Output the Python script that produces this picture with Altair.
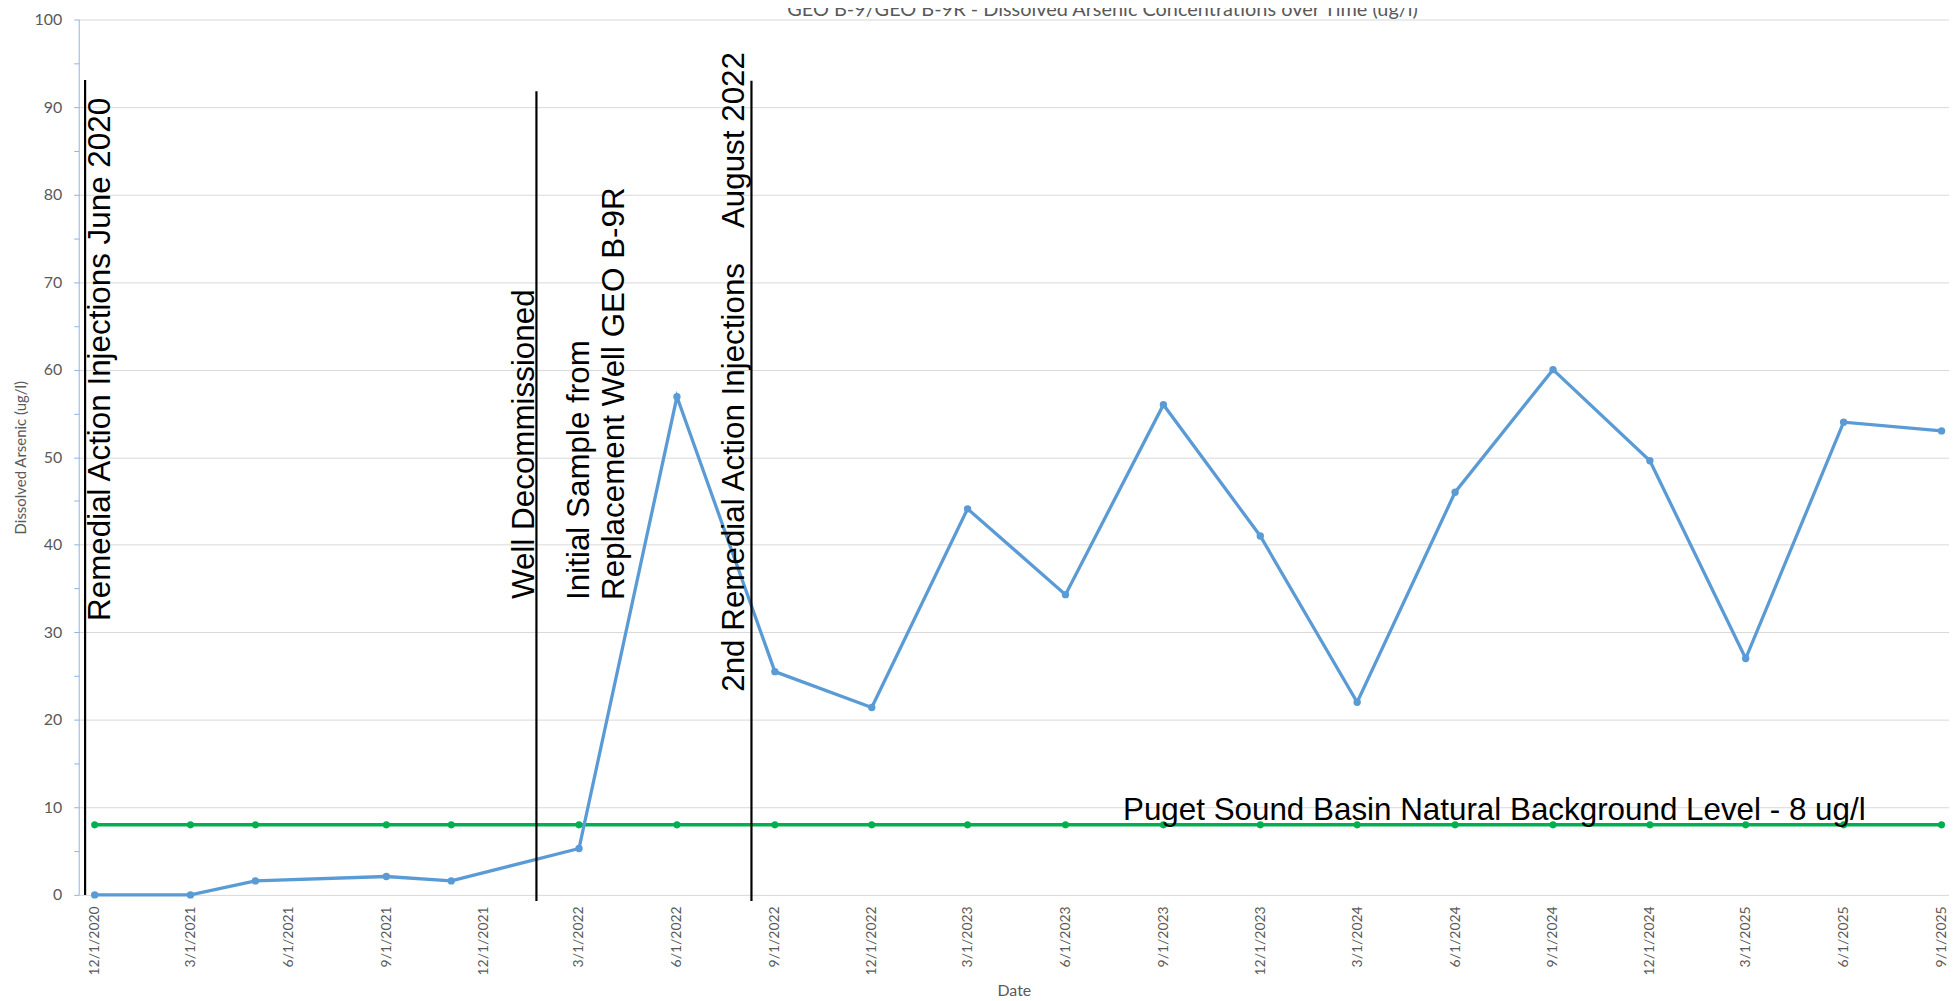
import altair as alt
import pandas as pd

# ---------------- data ----------------
sample_dates = [
    "2020-12-01", "2021-03-01", "2021-05-01", "2021-09-01", "2021-11-01",
    "2022-03-01", "2022-06-01", "2022-09-01", "2022-12-01", "2023-03-01",
    "2023-06-01", "2023-09-01", "2023-12-01", "2024-03-01", "2024-06-01",
    "2024-09-01", "2024-12-01", "2025-03-01", "2025-06-01", "2025-09-01",
]
arsenic = [0, 0, 1.6, 2.1, 1.6, 5.3, 56.9, 25.5, 21.4, 44.1,
           34.3, 56.0, 41.0, 22.0, 46.0, 60.0, 49.6, 27.0, 54.0, 53.0]
background = [8, 8, 8, 8, 8, 8, 8, 8, 8, 8, 8, 8, 8, 8, 8, 8, 8, 8, 8, 8]

tick_dates = [
    (2020, 12, 1), (2021, 3, 1), (2021, 6, 1), (2021, 9, 1), (2021, 12, 1),
    (2022, 3, 1), (2022, 6, 1), (2022, 9, 1), (2022, 12, 1), (2023, 3, 1),
    (2023, 6, 1), (2023, 9, 1), (2023, 12, 1), (2024, 3, 1), (2024, 6, 1),
    (2024, 9, 1), (2024, 12, 1), (2025, 3, 1), (2025, 6, 1), (2025, 9, 1),
]
y_ticks = [0, 5, 10, 15, 20, 25, 30, 35, 40, 45, 50, 55, 60, 65, 70, 75, 80, 85, 90, 95, 100]

event_dates = ["2020-11-22", "2022-01-20", "2022-08-10"]
event_top = [93.1, 91.8, 93.0]
event_bottom = [0, -0.7, -0.7]

vtext = [
    "Remedial Action Injections June 2020",
    "Well Decommissioned",
    "Initial Sample from",
    "Replacement Well GEO B-9R",
    "2nd Remedial Action Injections\u00a0\u00a0\u00a0\u00a0August 2022",
]
vtext_dates = ["2020-12-15", "2022-01-18", "2022-03-10", "2022-04-12", "2022-08-03"]
vtext_values = [31.3, 33.8, 33.7, 33.7, 23.2]

htext = ["Puget Sound Basin Natural Background Level - 8 ug/l"]
htext_dates = ["2023-07-25"]
htext_values = [8.54]

title_text = "GEO B-9/GEO B-9R - Dissolved Arsenic Concentrations over Time (ug/l)"

# ---------------- tables ----------------
def ts(s):
    return s + "T00:00:00"

series_df = pd.DataFrame({"date": [ts(d) for d in sample_dates], "value": arsenic})
bg_df = pd.DataFrame({"date": [ts(d) for d in sample_dates], "value": background})
ev_df = pd.DataFrame({"date": [ts(d) for d in event_dates], "top": event_top, "bottom": event_bottom})
vt_df = pd.DataFrame({"date": [ts(d) for d in vtext_dates], "value": vtext_values, "label": vtext})
ht_df = pd.DataFrame({"date": [ts(d) for d in htext_dates], "value": htext_values, "label": htext})
title_df = pd.DataFrame({"label": [title_text]})

GRAY = "#595959"
AX_FONT = "Lato"
ANN_FONT = "Liberation Sans, Arial, sans-serif"
ANN_SIZE = 31.5

x_scale = alt.Scale(domain=[alt.DateTime(year=2020, month=11, date=16),
                            alt.DateTime(year=2025, month=9, date=8)])
y_scale = alt.Scale(domain=[0, 100], nice=False, zero=False)

x_axis = alt.Axis(
    values=[alt.DateTime(year=y, month=m, date=d) for (y, m, d) in tick_dates],
    format="%-m/%-d/%Y", labelAngle=270, labelFont=AX_FONT, labelFontSize=14,
    labelColor=GRAY, domain=False, ticks=False, grid=False, labelPadding=11,
    title="Date", titleFont=AX_FONT, titleFontSize=16, titleFontWeight="normal",
    titleColor=GRAY, titlePadding=8, labelOverlap=False,
)
y_axis = alt.Axis(
    values=y_ticks,
    labelExpr="datum.value % 10 === 0 ? datum.label : ''",
    labelFont=AX_FONT, labelFontSize=16, labelColor=GRAY, labelPadding=12,
    domainColor="#8db4e2", domainWidth=1, tickColor="#8db4e2", tickSize=5,
    grid=True, gridColor="#d9d9d9", gridWidth=1,
    gridOpacity={"condition": {"test": "datum.value % 10 === 0", "value": 1}, "value": 0},
    title="Dissolved Arsenic (ug/l)", titleFont=AX_FONT, titleFontSize=15,
    titleFontWeight="normal", titleColor=GRAY, titlePadding=6,
)

X = alt.X("date:T", scale=x_scale, axis=x_axis)
Y = alt.Y("value:Q", scale=y_scale, axis=y_axis)

green = alt.Chart(bg_df).mark_line(
    color="#00B050", strokeWidth=3.5,
    point=alt.OverlayMarkDef(filled=True, size=50, color="#00B050", opacity=1),
).encode(x=X, y=Y)

blue = alt.Chart(series_df).mark_line(
    color="#5B9BD5", strokeWidth=3.3,
    point=alt.OverlayMarkDef(filled=True, size=55, color="#5B9BD5", opacity=1),
).encode(x=X, y=Y)

rules = alt.Chart(ev_df).mark_rule(color="#000000", strokeWidth=2.2).encode(
    x=X, y=alt.Y("top:Q", scale=y_scale, axis=y_axis), y2="bottom:Q"
)

vlabels = alt.Chart(vt_df).mark_text(
    angle=270, align="left", baseline="alphabetic", font=ANN_FONT,
    fontSize=ANN_SIZE, color="#000000",
).encode(x=X, y=Y, text="label:N")

hlabels = alt.Chart(ht_df).mark_text(
    angle=0, align="left", baseline="alphabetic", font=ANN_FONT,
    fontSize=ANN_SIZE, color="#000000",
).encode(x=X, y=Y, text="label:N")

title = alt.Chart(title_df).mark_text(
    align="center", baseline="alphabetic", font=AX_FONT, fontSize=20, color=GRAY,
).encode(x=alt.value(1028), y=alt.value(-3.5), text="label:N")

chart = alt.layer(green, blue, rules, vlabels, hlabels, title).properties(
    width=1878, height=879,
    padding={"left": 71, "top": 9.5, "right": 0, "bottom": 104},
    autosize=alt.AutoSizeParams(type="none"),
).configure_view(stroke=None)

chart.save("out.html", embed_options={"renderer": "svg", "actions": False})
